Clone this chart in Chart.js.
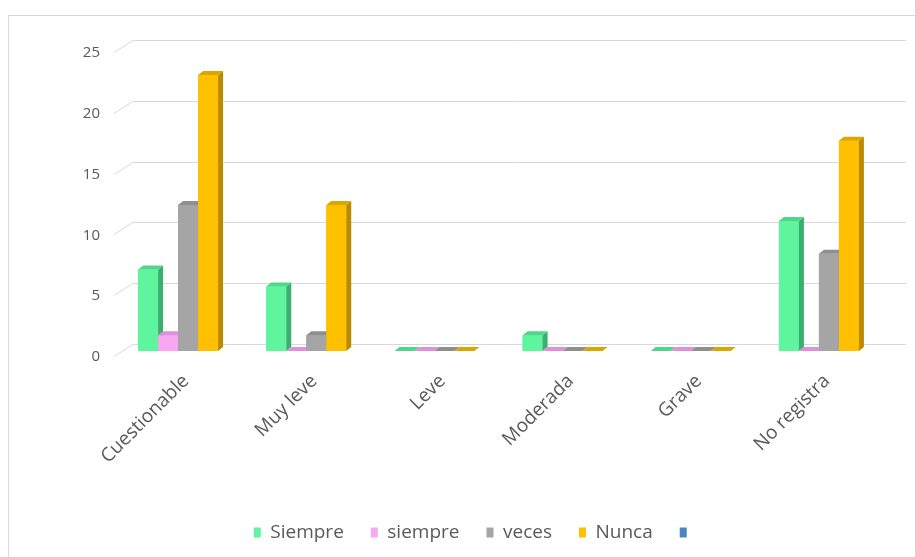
<!DOCTYPE html>
<html>
<head>
<meta charset="utf-8">
<script src="https://cdn.jsdelivr.net/npm/chart.js@4"></script>
<style>
    html, body { margin: 0; padding: 0; background: #fff; overflow: hidden; }
    #frame { position: absolute; left: 8px; top: 15px; width: 930px; height: 570px; border: 1px solid #d9d9d9; }
    #wrap { position: absolute; left: 0; top: 0; width: 915px; height: 557px; }
</style>
</head>
<body>
<div id="frame"></div>
<div id="wrap"><canvas id="chart" width="915" height="557"></canvas></div>
<script>
// ---- datos ----
const categories = ["Cuestionable", "Muy leve", "Leve", "Moderada", "Grave", "No registra"];
const seriesNames = ["Siempre", "siempre", "veces", "Nunca", ""];
const siempre     = [6.7, 5.3, 0, 1.3, 0, 10.7];
const casiSiempre = [1.3, 0, 0, 0, 0, 0];
const aVeces      = [12, 1.3, 0, 0, 0, 8];
const nunca       = [22.7, 12, 0, 0, 0, 17.3];
const vacia       = [null, null, null, null, null, null];
const yTicks      = [0, 5, 10, 15, 20, 25];

// colores: cara frontal, lateral, superior
const front = ["#5ef59e", "#f9a6f3", "#a5a5a5", "#ffc000", "#4a86c5"];
const side  = ["#3cae6e", "#c27dbd", "#7b7b7b", "#b98b00", "#2f5f91"];
const top_  = ["#4fd68a", "#e08fda", "#8f8f8f", "#dca600", "#3d74ad"];

const DX = 5, DY = 4;

// ========================================================
// efecto 3D: pared del fondo + caras laterales/superiores
// ========================================================
const bars3d = {
    id: "bars3d",
    beforeDatasetsDraw(chart) {
        const { ctx, chartArea: a, scales: { y } } = chart;
        ctx.save();
        ctx.strokeStyle = "#d9d9d9";
        ctx.lineWidth = 1;
        yTicks.forEach(v => {
            const py = Math.round(y.getPixelForValue(v)) + 0.5;
            ctx.beginPath();
            ctx.moveTo(a.left, py + 5);
            ctx.lineTo(a.left + 19, py - 7);
            ctx.lineTo(a.right + 23, py - 7);
            ctx.stroke();
        });
        ctx.restore();
    },
    afterDatasetsDraw(chart) {
        const ctx = chart.ctx;
        ctx.save();
        categories.forEach((c, j) => {
            chart.data.datasets.forEach((ds, i) => {
                const bar = chart.getDatasetMeta(i).data[j];
                if (!bar || ds.data[j] == null) return;
                const { x, y, base, width } = bar.getProps(["x", "y", "base", "width"], true);
                const l = x - width / 2, r = x + width / 2;
                ctx.fillStyle = front[i];
                ctx.fillRect(l, y, width, base - y);
                ctx.fillStyle = side[i];
                ctx.beginPath();
                ctx.moveTo(r, y); ctx.lineTo(r + DX, y - DY);
                ctx.lineTo(r + DX, base - DY); ctx.lineTo(r, base);
                ctx.closePath(); ctx.fill();
                ctx.fillStyle = top_[i];
                ctx.beginPath();
                ctx.moveTo(l, y); ctx.lineTo(l + DX, y - DY);
                ctx.lineTo(r + DX, y - DY); ctx.lineTo(r, y);
                ctx.closePath(); ctx.fill();
            });
        });
        ctx.restore();
    }
};

Chart.defaults.font.family = "'Open Sans', sans-serif";
Chart.defaults.color = "#595959";

const seriesData = [siempre, casiSiempre, aVeces, nunca, vacia];

new Chart(document.getElementById("chart"), {
    type: "bar",
    data: {
        labels: categories,
        datasets: seriesNames.map((name, i) => ({
            label: name,
            data: seriesData[i],
            backgroundColor: front[i],
            borderWidth: 0,
            grouped: i < 4,
            categoryPercentage: 0.624,
            barPercentage: 1
        }))
    },
    options: {
        responsive: false,
        animation: false,
        layout: { padding: { top: 47, right: 32, bottom: 5, left: 67 } },
        plugins: {
            tooltip: { enabled: false },
            legend: {
                position: "bottom",
                labels: { boxWidth: 7, boxHeight: 10, padding: 27, font: { size: 19 }, color: "#595959" }
            }
        },
        scales: {
            y: {
                min: 0, max: 25,
                ticks: { stepSize: 5, padding: 6, labelOffset: 6, font: { size: 15 }, color: "#595959" },
                grid: { display: false },
                border: { display: false },
                afterFit: s => { s.width = 47; }
            },
            x: {
                ticks: { minRotation: 45, maxRotation: 45, labelOffset: 8, padding: 11, font: { size: 19 }, color: "#595959" },
                grid: { display: false },
                border: { display: false },
                afterFit: s => { s.height = 145; }
            }
        }
    },
    plugins: [bars3d]
});
</script>
</body>
</html>
